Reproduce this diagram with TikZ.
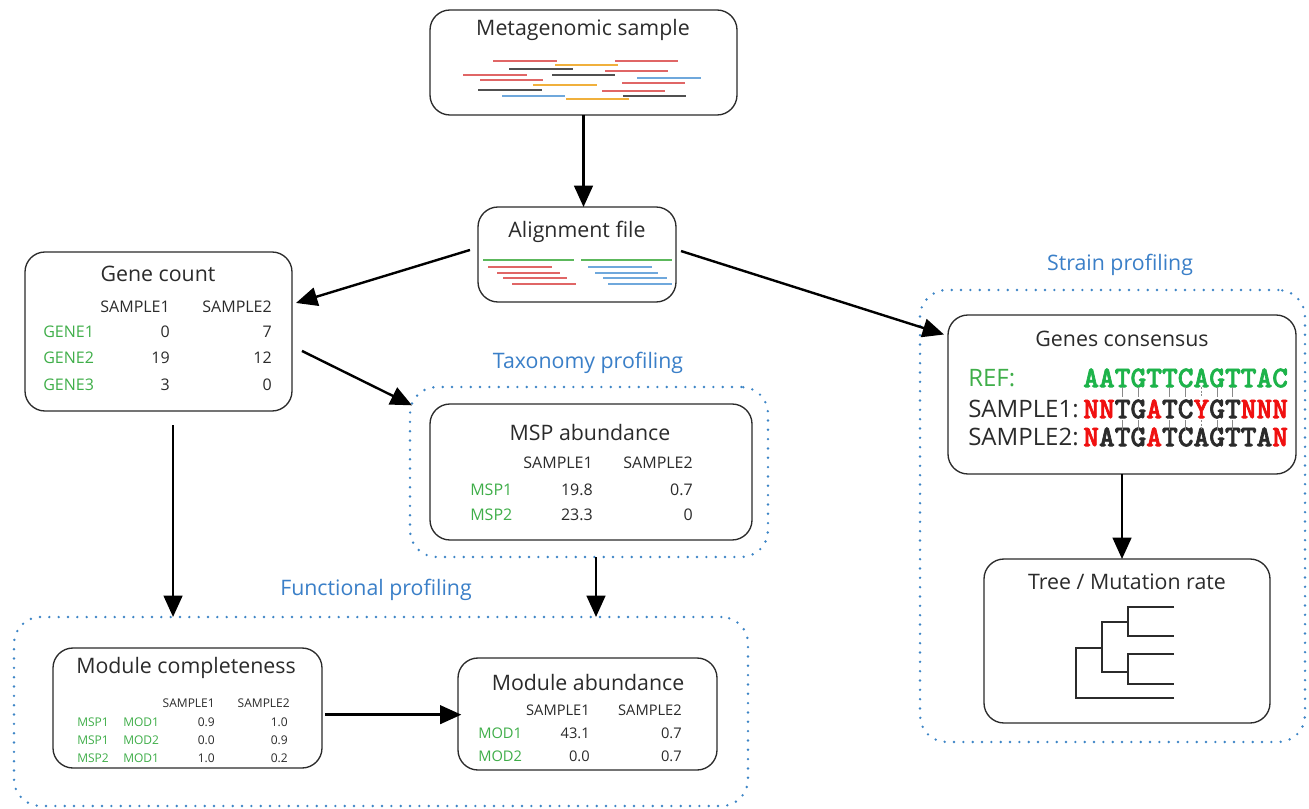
\documentclass[tikz,border=0pt]{standalone}
\usepackage{fontspec}
\setmainfont{Open Sans}
\newfontfamily\seqfont[FakeBold=2.2]{lmmonolt10-bold.otf}
\usetikzlibrary{arrows.meta}
\definecolor{ink}{HTML}{2B2B2B}
\definecolor{frameblue}{HTML}{3D85C6}
\definecolor{labelblue}{HTML}{3A7FC8}
\definecolor{tabgreen}{HTML}{3FAE49}
\definecolor{refgreen}{HTML}{1DB34A}
\definecolor{seqred}{HTML}{F01010}
\definecolor{readred}{HTML}{E06666}
\definecolor{readorange}{HTML}{F0B03C}
\definecolor{readdark}{HTML}{505050}
\definecolor{readblue}{HTML}{6FA8DC}
\definecolor{readgreen}{HTML}{5CB85C}
\newcommand\mm[1]{\textcolor{seqred}{#1}}
\begin{document}
\begin{tikzpicture}[x=0.75pt,y=-0.75pt,
  box/.style={draw=ink, line width=1pt, rounded corners=15pt, inner sep=0pt, outer sep=0pt, fill=white},
  frame/.style={draw=frameblue, line width=2pt, dash pattern=on 0pt off 7pt, line cap=round, rounded corners=20pt, inner sep=0pt, outer sep=0pt},
  arr/.style={draw=black, line width=1.8pt, -{Triangle[length=16pt,width=14pt]}},
  title/.style={inner sep=0pt, text=ink, font=\fontsize{16}{19}\selectfont},
  tab/.style={inner sep=0pt, text=ink, font=\fontsize{12}{14}\selectfont},
  tabs/.style={inner sep=0pt, text=ink, font=\fontsize{11}{13}\selectfont},
  tiny/.style={inner sep=0pt, text=ink, font=\fontsize{9}{11}\selectfont},
  lab/.style={inner sep=0pt, text=labelblue, font=\fontsize{16}{19}\selectfont},
  seq/.style={inner sep=0pt, text=ink, font=\fontsize{22.5}{25}\selectfont\seqfont},
  seqlab/.style={inner sep=0pt, text=ink, font=\fontsize{18}{21}\selectfont},
  read/.style={line width=1.7pt},
  tick/.style={draw=ink!55, line width=0.6pt},
  branch/.style={draw=ink, line width=1pt}]
\useasboundingbox (0,0) rectangle (1309,809);
\fill[white] (0,0) rectangle (1309,809);

% dotted group frames
\node[frame, minimum width=268.5pt, minimum height=127.5pt] (taxf) at (589,472) {};
\node[frame, minimum width=550.5pt, minimum height=141.75pt] (funf) at (381,711.5) {};
\node[frame, minimum width=288.75pt, minimum height=339pt] (strf) at (1112.5,516) {};
\node[lab] (taxl) at (588,363) {Taxonomy profiling};
\node[lab] (funl) at (376,590) {Functional profiling};
\node[lab] (strl) at (1120,265) {Strain profiling};

% boxes
\node[box, minimum width=230.25pt, minimum height=78.75pt] (meta) at (583.5,62.5) {};
\node[box, minimum width=148.5pt, minimum height=71.25pt] (align) at (577,254.5) {};
\node[box, minimum width=200.25pt, minimum height=119.25pt] (gene) at (158.5,331.5) {};
\node[box, minimum width=241.5pt, minimum height=102pt] (msp) at (591,472) {};
\node[box, minimum width=201.75pt, minimum height=90pt] (modc) at (187.5,708) {};
\node[box, minimum width=194.25pt, minimum height=84pt] (moda) at (587.5,714) {};
\node[box, minimum width=261pt, minimum height=119.25pt] (genes) at (1122,394.5) {};
\node[box, minimum width=214.5pt, minimum height=123pt] (tree) at (1127,641) {};

% Metagenomic sample
\node[title] (meta-t) at (583,30) {Metagenomic sample};
\foreach \xa/\xb/\y/\c in {
  493/557/61/readred, 555/618/65/readorange, 615/678/61/readred,
  509/573/69/readdark, 605/668/71/readred, 463/527/75/readred,
  552/615/75/readdark, 637/701/78/readblue, 480/543/80/readred,
  622/685/83/readred, 533/597/85/readorange, 478/542/90/readdark,
  602/665/91/readred, 502/565/96/readblue, 623/686/96/readdark,
  566/629/99/readorange}
  \draw[read, \c] (\xa,\y) -- (\xb,\y);

% Alignment file
\node[title] (align-t) at (577,232) {Alignment file};
\draw[read, readgreen] (483,260) -- (574,260);
\draw[read, readgreen] (581,260) -- (672,260);
\foreach \xa/\xb/\y in {488/552/267, 497/560/273, 503/567/278, 512/576/284}
  \draw[read, readred] (\xa,\y) -- (\xb,\y);
\foreach \xa/\xb/\y in {588/652/267, 595/658/273, 603/667/278, 608/672/284}
  \draw[read, readblue] (\xa,\y) -- (\xb,\y);

% Gene count
\node[title] (gene-t) at (158,274) {Gene count};
\node[tab, anchor=east] (gene-h1) at (170,307) {SAMPLE1};
\node[tab, anchor=east] (gene-h2) at (272,307) {SAMPLE2};
\foreach \n/\y/\a/\b in {1/332/0/7, 2/358/19/12, 3/385/3/0}{
  \node[tab, anchor=west, text=tabgreen] (gene-r\n) at (43,\y) {GENE\n};
  \node[tab, anchor=east] (gene-a\n) at (170,\y) {\a};
  \node[tab, anchor=east] (gene-b\n) at (272,\y) {\b};
}

% MSP abundance
\node[title] (msp-t) at (590,432) {MSP abundance};
\node[tab, anchor=east] (msp-h1) at (593,463) {SAMPLE1};
\node[tab, anchor=east] (msp-h2) at (693,463) {SAMPLE2};
\foreach \n/\y/\a/\b in {1/490/19.8/0.7, 2/515/23.3/0}{
  \node[tab, anchor=west, text=tabgreen] (msp-r\n) at (470,\y) {MSP\n};
  \node[tab, anchor=east] (msp-a\n) at (593,\y) {\a};
  \node[tab, anchor=east] (msp-b\n) at (693,\y) {\b};
}

% Module completeness
\node[title] (modc-t) at (186,668) {Module completeness};
\node[tiny, anchor=east] (modc-h1) at (215,703) {SAMPLE1};
\node[tiny, anchor=east] (modc-h2) at (290,703) {SAMPLE2};
\foreach \n/\y/\p/\m/\a/\b in {1/722/MSP1/MOD1/0.9/1.0, 2/740/MSP1/MOD2/0.0/0.9, 3/758/MSP2/MOD1/1.0/0.2}{
  \node[tiny, anchor=west, text=tabgreen] (modc-p\n) at (77,\y) {\p};
  \node[tiny, anchor=west, text=tabgreen] (modc-m\n) at (123,\y) {\m};
  \node[tiny, anchor=east] (modc-a\n) at (215,\y) {\a};
  \node[tiny, anchor=east] (modc-b\n) at (288,\y) {\b};
}

% Module abundance
\node[title] (moda-t) at (588,682) {Module abundance};
\node[tabs, anchor=east] (moda-h1) at (590,710) {SAMPLE1};
\node[tabs, anchor=east] (moda-h2) at (682,710) {SAMPLE2};
\foreach \n/\y/\a/\b in {1/733/43.1/0.7, 2/756/0.0/0.7}{
  \node[tabs, anchor=west, text=tabgreen] (moda-r\n) at (478,\y) {MOD\n};
  \node[tabs, anchor=east] (moda-a\n) at (590,\y) {\a};
  \node[tabs, anchor=east] (moda-b\n) at (682,\y) {\b};
}

% Genes consensus
\node[title] (genes-t) at (1122,339) {Genes consensus};
\node[seqlab, anchor=west, text=tabgreen] (ref-l) at (968,378) {REF:};
\node[seqlab, anchor=west] (s1-l) at (968,409) {SAMPLE1:};
\node[seqlab, anchor=west] (s2-l) at (968,437) {SAMPLE2:};
\node[seq, anchor=west, text=refgreen] (ref-s) at (1083,378) {AATGTTCAGTTAC};
\node[seq, anchor=west] (s1-s) at (1083,409) {\mm{NN}TG\mm{A}TC\mm{Y}GT\mm{NNN}};
\node[seq, anchor=west] (s2-s) at (1083,437) {\mm{N}ATG\mm{A}TCAGTTA\mm{N}};
\foreach \i in {2,3,5,6,8,9}{
  \draw[tick] ({1083+(\i+0.5)*15.77},387) -- ++(0,10);
  \draw[tick] ({1083+(\i+0.5)*15.77},420) -- ++(0,10);
}
\draw[tick, dash pattern=on 1.5pt off 1.2pt] ({1083+7.5*15.77},387) -- ++(0,10);
\draw[tick, dash pattern=on 1.5pt off 1.2pt] ({1083+7.5*15.77},420) -- ++(0,10);

% Tree / Mutation rate
\node[title] (tree-t) at (1127,582) {Tree / Mutation rate};
\draw[branch] (1174,698) -- (1076,698) -- (1076,648) -- (1102,648);
\draw[branch] (1128,622) -- (1102,622) -- (1102,672) -- (1128,672);
\draw[branch] (1174,607) -- (1128,607) -- (1128,636) -- (1174,636);
\draw[branch] (1174,654) -- (1128,654) -- (1128,684) -- (1174,684);

% connectors
\draw[arr] (meta.south) -- (meta.south |- align.north);
\draw[arr] ([xshift=-6pt,yshift=3.4pt]align.west) -- ([xshift=3pt,yshift=21.4pt]gene.east);
\draw[arr] ([xshift=3.75pt,yshift=2.6pt]align.east) -- ([xshift=-3pt,yshift=45pt]genes.west);
\draw[arr] ([xshift=7.5pt,yshift=-14.6pt]gene.east) -- ([xshift=1.5pt,yshift=50pt]taxf.west);
\draw[arr] ([xshift=10.9pt,yshift=-10.5pt]gene.south) -- ([xshift=10.9pt]gene.south |- funf.north);
\draw[arr] ([xshift=5.25pt]taxf.south) -- ([xshift=5.25pt]taxf.south |- funf.north);
\draw[arr] ([xshift=2.5pt,yshift=-5pt]modc.east) -- ([xshift=2.5pt,yshift=-5pt]modc.east -| moda.west);
\draw[arr] (genes.south) -- (genes.south |- tree.north);
\end{tikzpicture}
\end{document}
